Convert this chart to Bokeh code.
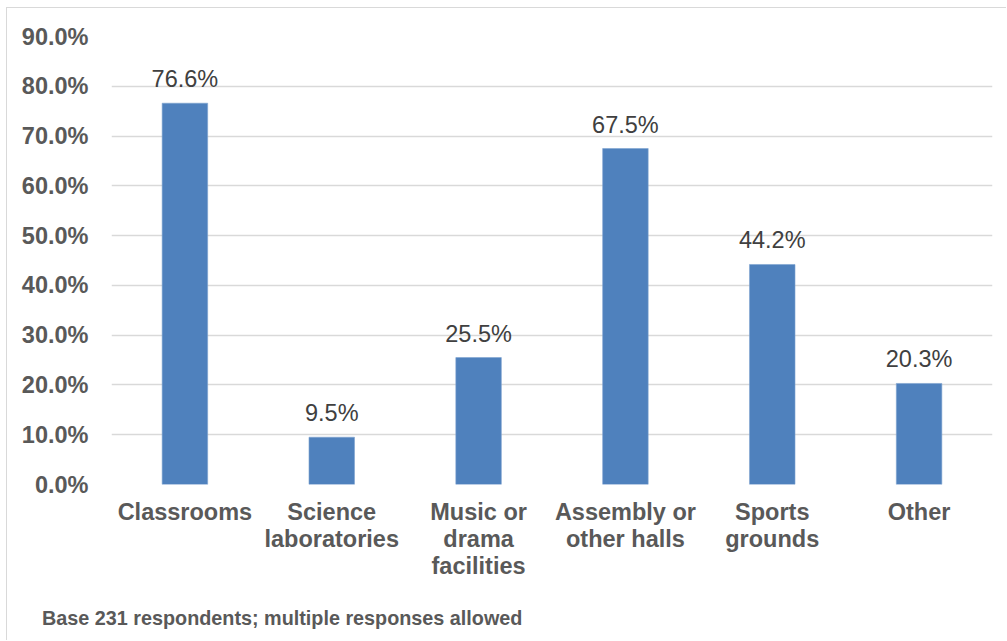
from bokeh.plotting import figure
from bokeh.models import ColumnDataSource, Range1d, FixedTicker, PrintfTickFormatter, Div
from bokeh.layouts import column
from bokeh.core.properties import value
from bokeh.embed import file_html
from bokeh.resources import INLINE

categories = ["Classrooms", "Science\nlaboratories", "Music or\ndrama\nfacilities",
              "Assembly or\nother halls", "Sports\ngrounds", "Other"]
values = [76.6, 9.5, 25.5, 67.5, 44.2, 20.3]
value_labels = ["76.6%", "9.5%", "25.5%", "67.5%", "44.2%", "20.3%"]
y_ticks = [0, 10, 20, 30, 40, 50, 60, 70, 80, 90]
footer = "Base 231 respondents; multiple responses allowed"

FONT = "Liberation Sans"
GREY = "#595959"

src = ColumnDataSource(dict(cat=categories, val=values, lab=value_labels))

p = figure(x_range=categories, y_range=Range1d(0, 90), width=999, height=600,
           output_backend="svg", toolbar_location=None,
           min_border_left=104, min_border_right=14, min_border_top=28, min_border_bottom=124)
p.outline_line_color = None
p.background_fill_color = "white"
p.border_fill_color = "white"

p.vbar(x="cat", top="val", width=0.31, source=src, fill_color="#4F81BD",
       line_color="#7EA3D0", line_width=0.6)
p.text(x="cat", y="val", text="lab", source=src, text_align="center",
       text_baseline="alphabetic", y_offset=-24, text_font=value(FONT),
       text_font_size="23.5px", text_color="#404040")

p.yaxis.ticker = FixedTicker(ticks=y_ticks)
p.yaxis.formatter = PrintfTickFormatter(format="%.1f%%")
for ax in (p.xaxis[0], p.yaxis[0]):
    ax.axis_line_color = None
    ax.major_tick_line_color = None
    ax.minor_tick_line_color = None
    ax.major_label_text_font = FONT
    ax.major_label_text_font_style = "bold"
    ax.major_label_text_font_size = "23.5px"
    ax.major_label_text_color = GREY
p.yaxis.major_label_standoff = 17
p.xaxis.major_label_standoff = 8
p.xaxis.major_label_text_line_height = 1.05

p.xgrid.grid_line_color = None
p.ygrid.grid_line_color = "#d9d9d9"
p.ygrid.grid_line_width = 1.5

note = Div(text=footer, width=999, height=32, margin=0,
           styles={"font-family": FONT, "font-size": "19.8px", "font-weight": "bold",
                   "color": GREY, "line-height": "20px", "padding-left": "35px",
                   "background-color": "white"})

layout = column(p, note, spacing=0, margin=0,
                styles={"margin-left": "6px", "margin-top": "7px",
                        "border-top": "1.5px solid #d9d9d9",
                        "border-left": "1.5px solid #d9d9d9",
                        "background-color": "white"})

open("out.html", "w").write(file_html(layout, INLINE))
